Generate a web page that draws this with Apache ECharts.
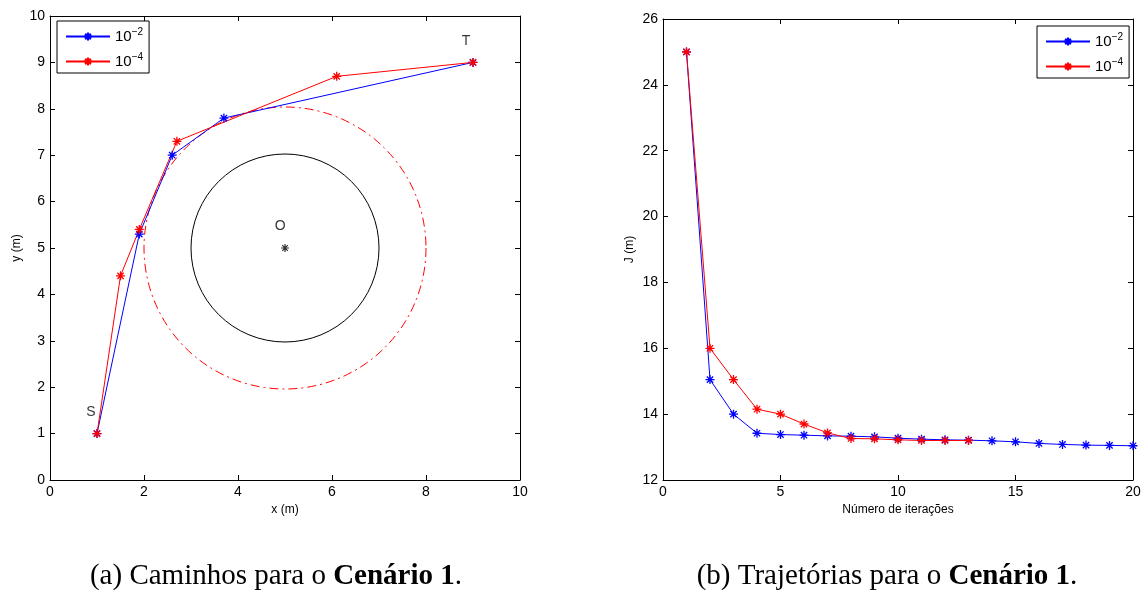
<!DOCTYPE html>
<html>
<head>
<meta charset="utf-8">
<script src="https://cdn.jsdelivr.net/npm/echarts@6/dist/echarts.min.js"></script>
<style>
html,body{margin:0;padding:0;background:#fff;}
#chart{width:1146px;height:590px;}
</style>
</head>
<body>
<div id="chart"></div>
<script>
// ---- Data: left plot (paths) ----
const pathX_e2 = [1, 1.9, 2.6, 3.7, 9];
const pathY_e2 = [1, 5.3, 7.0, 7.8, 9];
const pathX_e4 = [1, 1.5, 1.9, 2.7, 6.1, 9];
const pathY_e4 = [1, 4.4, 5.4, 7.3, 8.7, 9];
const obstacleCenter = [5, 5];
const obstacleRadius = 2;
const safetyRadius = 3;
const pointNames = ['S', 'T', 'O'];
const pointX = [0.87, 8.85, 4.9];
const pointY = [1.46, 9.46, 5.48];

// ---- Data: right plot (cost per iteration) ----
const iterations = [1,2,3,4,5,6,7,8,9,10,11,12,13,14,15,16,17,18,19,20];
const J_e2 = [25, 15.05, 14.0, 13.42, 13.38, 13.36, 13.34, 13.33, 13.31, 13.27, 13.24, 13.22, 13.21, 13.19, 13.16, 13.11, 13.08, 13.06, 13.05, 13.04];
const J_e4 = [25, 16.0, 15.05, 14.15, 14.0, 13.7, 13.43, 13.26, 13.25, 13.22, 13.2, 13.2, 13.2];

const seriesNames = ['1e-2', '1e-4'];
const legendExp = {'1e-2': '−2', '1e-4': '−4'};
const captionA = '(a) Caminhos para o {b|Cenário 1}.';
const captionB = '(b) Trajetórias para o {b|Cenário 1}.';

const BLUE = '#0000ff', RED = '#ff0000';
const star = 'path://M0,5L10,5M5,0L5,10M1.5,1.5L8.5,8.5M1.5,8.5L8.5,1.5';
const FONT = 'Liberation Sans';

function zip(xs, ys) { return xs.map((x, i) => [x, ys[i]]); }

const chart = echarts.init(document.getElementById('chart'), null, {renderer: 'canvas'});

function mainAxis(gridIndex, pos, min, max, interval, name, nameGap) {
  return {
    type: 'value', gridIndex, position: pos, min, max, interval,
    name, nameLocation: 'middle', nameGap,
    nameTextStyle: {fontFamily: FONT, fontSize: 12, color: '#000'},
    axisLine: {show: true, onZero: false, lineStyle: {color: '#000', width: 1}},
    axisTick: {show: true, inside: true, length: 5, lineStyle: {color: '#000'}},
    axisLabel: {show: true, fontFamily: FONT, fontSize: 14, color: '#000', margin: 5},
    splitLine: {show: false}
  };
}
function boxAxis(gridIndex, pos, min, max, interval) {
  return {
    type: 'value', gridIndex, position: pos, min, max, interval,
    axisLine: {show: true, onZero: false, lineStyle: {color: '#000', width: 1}},
    axisTick: {show: true, inside: true, length: 5, lineStyle: {color: '#000'}},
    axisLabel: {show: false},
    splitLine: {show: false}
  };
}

function lineSeries(name, data, color, xi, yi) {
  return {
    type: 'line', name, data, xAxisIndex: xi, yAxisIndex: yi,
    symbol: star, symbolSize: 9, showAllSymbol: true,
    lineStyle: {color, width: 1},
    itemStyle: {color, borderColor: color, borderWidth: 1.3},
    emphasis: {disabled: true}, animation: false, z: 3
  };
}

function circleSeries(radius, style) {
  return {
    type: 'custom', xAxisIndex: 0, yAxisIndex: 0, animation: false, silent: true,
    data: [[obstacleCenter[0], obstacleCenter[1], radius]],
    renderItem: function (params, api) {
      const c = api.coord([api.value(0), api.value(1)]);
      const r = api.size([api.value(2), 0])[0];
      return {type: 'circle', shape: {cx: c[0], cy: c[1], r: r}, style: style};
    },
    z: 2
  };
}

const legendCommon = {
  orient: 'vertical', backgroundColor: '#fff', borderColor: '#000', borderWidth: 1,
  borderRadius: 0, itemWidth: 44, itemHeight: 10, itemGap: 8, padding: [6, 6, 4, 8],
  textStyle: {fontFamily: FONT, fontSize: 15, color: '#000',
    rich: {sup: {fontFamily: FONT, fontSize: 10, verticalAlign: 'top', padding: [0, 0, 9, 0], color: '#000'},
           base: {fontFamily: FONT, fontSize: 15, color: '#000'}}},
  formatter: function (name) { return '{base|10}{sup|' + legendExp[name] + '}'; },
  data: seriesNames, selectedMode: false
};

const capStyle = {fontFamily: 'Liberation Serif', fontSize: 29, fontWeight: 'normal', color: '#000',
  rich: {b: {fontFamily: 'Liberation Serif', fontSize: 29, fontWeight: 'bold', color: '#000'}}};

const option = {
  animation: false,
  backgroundColor: '#fff',
  title: [
    {text: captionA, left: 271, top: 557, textAlign: 'center', textStyle: capStyle},
    {text: captionB, left: 882, top: 557, textAlign: 'center', textStyle: capStyle}
  ],
  legend: [
    Object.assign({left: 57, top: 21}, legendCommon),
    Object.assign({left: 1037, top: 26}, legendCommon)
  ],
  grid: [
    {left: 50, top: 16, width: 470, height: 464},
    {left: 663, top: 19, width: 470, height: 461}
  ],
  xAxis: [
    mainAxis(0, 'bottom', 0, 10, 2, 'x (m)', 24),
    boxAxis(0, 'top', 0, 10, 2),
    mainAxis(1, 'bottom', 0, 20, 5, 'Número de iterações', 24),
    boxAxis(1, 'top', 0, 20, 5)
  ],
  yAxis: [
    mainAxis(0, 'left', 0, 10, 1, 'y (m)', 27),
    boxAxis(0, 'right', 0, 10, 1),
    mainAxis(1, 'left', 12, 26, 2, 'J (m)', 27),
    boxAxis(1, 'right', 12, 26, 2)
  ],
  series: [
    circleSeries(safetyRadius, {fill: 'none', stroke: RED, lineWidth: 1, lineDash: [9, 4, 2, 4]}),
    circleSeries(obstacleRadius, {fill: 'none', stroke: '#000', lineWidth: 1}),
    {
      type: 'scatter', xAxisIndex: 0, yAxisIndex: 0, symbol: star, symbolSize: 8,
      itemStyle: {color: '#000', borderColor: '#000', borderWidth: 1.2},
      data: [obstacleCenter], silent: true, animation: false, z: 3
    },
    {
      type: 'scatter', xAxisIndex: 0, yAxisIndex: 0, symbolSize: 0, silent: true, animation: false,
      data: pointNames.map((n, i) => ({name: n, value: [pointX[i], pointY[i]]})),
      label: {show: true, position: 'inside', formatter: '{b}', fontFamily: FONT, fontSize: 14, color: '#000'}
    },
    lineSeries(seriesNames[0], zip(pathX_e2, pathY_e2), BLUE, 0, 0),
    lineSeries(seriesNames[1], zip(pathX_e4, pathY_e4), RED, 0, 0),
    lineSeries(seriesNames[0], zip(iterations.slice(0, J_e2.length), J_e2), BLUE, 2, 2),
    lineSeries(seriesNames[1], zip(iterations.slice(0, J_e4.length), J_e4), RED, 2, 2)
  ]
};
chart.setOption(option);
</script>
</body>
</html>
